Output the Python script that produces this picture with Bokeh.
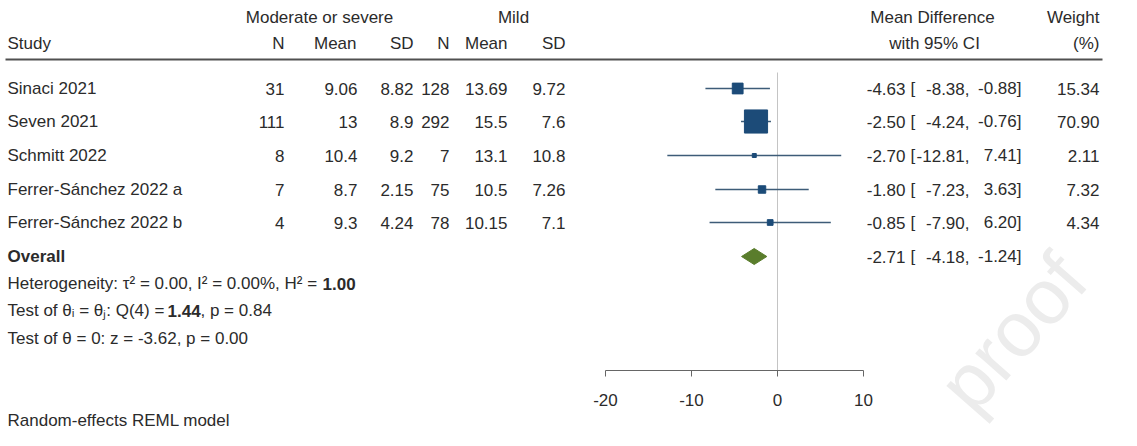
import numpy as np
from bokeh.plotting import figure
from bokeh.models import Range1d, LinearAxis, FixedTicker
from bokeh.core.properties import value
from bokeh.embed import file_html
from bokeh.resources import INLINE

# ---------------- data ----------------
studies = ["Sinaci  2021", "Seven 2021", "Schmitt 2022",
           "Ferrer-Sánchez 2022 a", "Ferrer-Sánchez 2022 b"]
n_mod = [31, 111, 8, 7, 4]
mean_mod = [9.06, 13, 10.4, 8.7, 9.3]
sd_mod = [8.82, 8.9, 9.2, 2.15, 4.24]
n_mild = [128, 292, 7, 75, 78]
mean_mild = [13.69, 15.5, 13.1, 10.5, 10.15]
sd_mild = [9.72, 7.6, 10.8, 7.26, 7.1]
md = [-4.63, -2.50, -2.70, -1.80, -0.85]
ci_lo = [-8.38, -4.24, -12.81, -7.23, -7.90]
ci_hi = [-0.88, -0.76, 7.41, 3.63, 6.20]
weight = [15.34, 70.90, 2.11, 7.32, 4.34]
overall_md = -2.71
overall_lo = -4.18
overall_hi = -1.24
x_ticks = [-20, -10, 0, 10]

# ---------------- layout helpers ----------------
ZERO = 785.0   # pixel of effect 0 (page coords)
PPU = 8.6      # pixels per effect unit
def X(px):
    return (px - ZERO) / PPU

FONT = value("Liberation Sans")
FS = "17px"
TXT = "#2b2b2b"

p = figure(width=1121, height=430,
           x_range=Range1d(X(8), X(1129)), y_range=Range1d(438, 8),
           min_border=0, toolbar_location=None, output_backend="svg",
           x_axis_location=None, y_axis_location=None)
p.outline_line_color = None
p.xgrid.visible = False
p.ygrid.visible = False
p.background_fill_color = "white"
p.border_fill_color = "white"

def txt(xs, ys, texts, align="left", bold=False, size=FS, color=TXT):
    p.text(x=[X(v) for v in xs], y=ys, text=texts, text_align=align,
           text_baseline="middle", text_font=FONT, text_font_size=size,
           text_color=color, text_font_style="bold" if bold else "normal")

ROW_Y = [96, 129, 163, 197, 230]
OV_Y = 264
n = len(studies)

# watermark
p.text(x=[X(1020)], y=[340], text=["proof"], text_align="center",
       text_baseline="middle", text_font=FONT, text_font_size="78px",
       text_color="#ececec", angle=0.85)

# header
txt([327], [25], ["Moderate or severe"], "center")
txt([521], [25], ["Mild"], "center")
txt([940], [25], ["Mean Difference"], "center")
txt([1107], [25], ["Weight"], "right")
txt([15], [51], ["Study"], "left")
txt([292, 364, 421, 457, 515, 573], [51] * 6,
    ["N", "Mean", "SD", "N", "Mean", "SD"], "right")
txt([942], [51], ["with 95% CI"], "center")
txt([1107], [51], ["(%)"], "right")
p.segment(x0=[X(13)], x1=[X(1110)], y0=[67], y1=[67], line_color="#505050", line_width=2.2)

# reference line
p.segment(x0=[0], x1=[0], y0=[80], y1=[378], line_color="#c4c4c4", line_width=1)

# table rows
txt([15] * n, ROW_Y, studies, "left")
txt([292] * n, ROW_Y, [str(v) for v in n_mod], "right")
txt([365] * n, ROW_Y, [f"{v:g}" for v in mean_mod], "right")
txt([421] * n, ROW_Y, [f"{v:g}" for v in sd_mod], "right")
txt([457] * n, ROW_Y, [str(v) for v in n_mild], "right")
txt([515] * n, ROW_Y, [f"{v:g}" for v in mean_mild], "right")
txt([573] * n, ROW_Y, [f"{v:g}" for v in sd_mild], "right")

all_md = md + [overall_md]
all_lo = ci_lo + [overall_lo]
all_hi = ci_hi + [overall_hi]
all_y = ROW_Y + [OV_Y]
txt([913] * (n + 1), all_y, [f"{v:.2f}" for v in all_md], "right")
txt([918] * (n + 1), all_y, ["["] * (n + 1), "left")
txt([977] * (n + 1), all_y, [f"{v:.2f}," for v in all_lo], "right")
txt([1029] * (n + 1), all_y, [f"{v:.2f}]" for v in all_hi], "right")
txt([1107] * n, ROW_Y, [f"{v:.2f}" for v in weight], "right")

# CI lines and squares
p.segment(x0=ci_lo, x1=ci_hi, y0=ROW_Y, y1=ROW_Y, line_color="#3d5c78", line_width=1.6)
p.scatter(x=md, y=ROW_Y, size=[2.75 * np.sqrt(w) for w in weight], marker="square",
          fill_color="#1c4b78", line_color="#1c4b78")

# overall diamond
p.patch(x=[overall_lo, overall_md, overall_hi, overall_md],
        y=[OV_Y, OV_Y - 8, OV_Y, OV_Y + 8],
        fill_color="#5a7d2c", line_color="#5a7d2c")
txt([15], [OV_Y], ["Overall"], "left", bold=True)

# statistics
txt([15], [291], ["Heterogeneity: τ² = 0.00, I² = 0.00%, H² = "], "left")
txt([330], [291], ["1.00"], "left", bold=True)
txt([15], [318], ["Test of θᵢ = θⱼ: Q(4) = "], "left")
txt([175], [318], ["1.44"], "left", bold=True)
txt([208], [318], [", p = 0.84"], "left")
txt([15], [346], ["Test of θ = 0: z = -3.62, p = 0.00"], "left")
txt([15], [428], ["Random-effects REML model"], "left")

# axis
ax = LinearAxis(fixed_location=378, ticker=FixedTicker(ticks=x_ticks),
                bounds=(min(x_ticks), max(x_ticks)),
                major_tick_in=0, major_tick_out=6,
                minor_tick_line_color=None,
                axis_line_color="#666666", major_tick_line_color="#666666",
                major_label_text_font_size=FS,
                major_label_text_font="Liberation Sans",
                major_label_overrides={v: str(v) for v in x_ticks},
                major_label_text_color=TXT, major_label_standoff=17)
p.add_layout(ax, "below")

open("out.html", "w").write(file_html(p, INLINE))
